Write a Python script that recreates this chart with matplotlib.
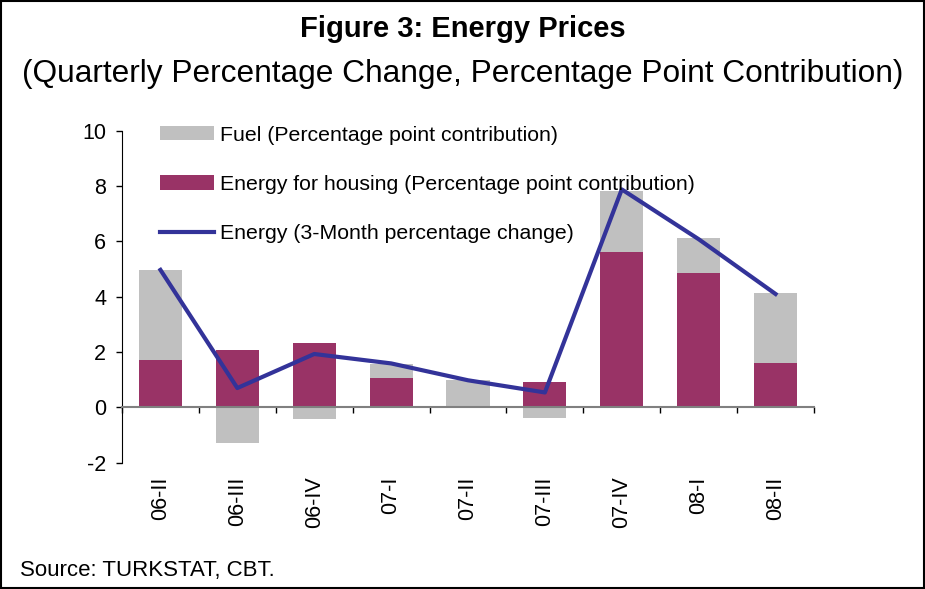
import matplotlib
matplotlib.use("Agg")
import matplotlib.pyplot as plt
from matplotlib.patches import Rectangle
import numpy as np

plt.rcParams['font.family'] = ['Liberation Sans', 'DejaVu Sans']
plt.rcParams['axes.unicode_minus'] = False

categories = ["06-II", "06-III", "06-IV", "07-I", "07-II", "07-III", "07-IV", "08-I", "08-II"]
housing = [1.70, 2.08, 2.34, 1.07, 0.03, 0.93, 5.62, 4.86, 1.61]
fuel = [3.27, -1.30, -0.43, 0.51, 0.97, -0.40, 2.20, 1.27, 2.53]
energy = [4.97, 0.70, 1.93, 1.59, 0.98, 0.54, 7.88, 6.08, 4.10]

C_FUEL = "#C0C0C0"
C_HOUS = "#993366"
C_LINE = "#333399"

fig = plt.figure(figsize=(9.25, 5.89), dpi=100)
fig.patches.append(Rectangle((0.0015, 0.0017), 0.997, 0.9966, transform=fig.transFigure,
                             fill=False, edgecolor="black", linewidth=1.5))

ax = fig.add_axes([0.1319, 0.2144, 0.7481, 0.5636])
x = np.arange(len(categories))
h = np.array(housing)
f = np.array(fuel)
fuel_bottom = np.where(f >= 0, np.maximum(h, 0), 0)
b_h = ax.bar(x, h, width=0.56, color=C_HOUS, zorder=2)
b_f = ax.bar(x, f, width=0.56, bottom=fuel_bottom, color=C_FUEL, zorder=2)
ln, = ax.plot(x, energy, color=C_LINE, linewidth=3.0, zorder=3)

ax.set_xlim(-0.5, 8.5)
ax.set_ylim(-2, 10)
ax.set_yticks(range(-2, 11, 2))
ax.tick_params(axis='y', labelsize=15.5, direction='out', length=4.5, width=1, pad=7)

for s in ['top', 'right']:
    ax.spines[s].set_visible(False)
ax.spines['left'].set_color('black')
ax.spines['bottom'].set_position(('data', 0))
ax.spines['bottom'].set_color('#808080')
ax.spines['bottom'].set_linewidth(1.5)
ax.set_xticks(np.arange(-0.5, 9, 1.0))
ax.tick_params(axis='x', direction='out', length=4.5, width=1, labelbottom=False, color='black')

sec = ax.secondary_xaxis('bottom')
sec.set_xticks(x)
sec.set_xticklabels(categories, rotation=90, fontsize=15.5)
sec.tick_params(length=0, pad=10)
sec.spines['bottom'].set_visible(False)

ax.legend([b_f, b_h, ln],
          ["Fuel (Percentage point contribution)",
           "Energy for housing (Percentage point contribution)",
           "Energy (3-Month percentage change)"],
          loc='upper left', bbox_to_anchor=(0.055, 1.015), frameon=False, fontsize=15.3,
          handlelength=2.55, handleheight=0.66, handletextpad=0.27, labelspacing=1.42,
          borderpad=0, borderaxespad=0)

fig.text(0.5, 0.9377, "Figure 3: Energy Prices", ha='center', va='baseline', fontsize=21, fontweight='bold')
fig.text(0.5, 0.8613, "(Quarterly Percentage Change, Percentage Point Contribution)", ha='center',
         va='baseline', fontsize=22.8)
fig.text(0.022, 0.032, "Source: TURKSTAT, CBT.", ha='left', va='center', fontsize=16)

fig.savefig("out.png", dpi=100)
